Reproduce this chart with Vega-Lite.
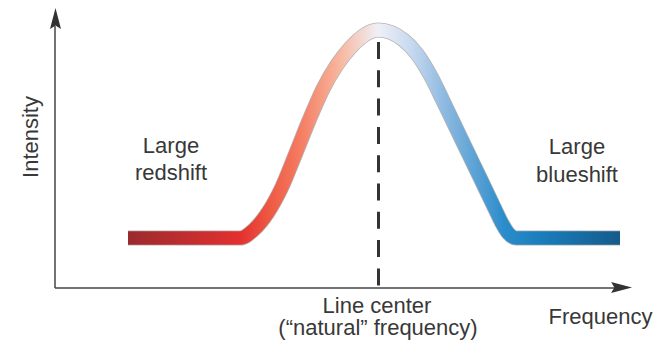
{
  "$schema": "https://vega.github.io/schema/vega-lite/v6.json",
  "width": 672,
  "height": 343,
  "padding": 0,
  "autosize": {"type": "none"},
  "background": "white",
  "config": {"view": {"stroke": null}},
  "datasets": {
    "curve": [
      {"f": 73, "i": 50}, {"f": 185, "i": 50}, {"f": 198.8, "i": 58.3}, {"f": 212.6, "i": 75},
      {"f": 226.4, "i": 99.9}, {"f": 240.2, "i": 133.2}, {"f": 254, "i": 167.5}, {"f": 267.8, "i": 198.7},
      {"f": 281.6, "i": 222.6}, {"f": 295.4, "i": 240.3}, {"f": 309.2, "i": 252.8}, {"f": 323, "i": 258},
      {"f": 336, "i": 255.5}, {"f": 349, "i": 247.6}, {"f": 362, "i": 234}, {"f": 375, "i": 213.3},
      {"f": 388, "i": 187.3}, {"f": 401, "i": 160.2}, {"f": 414, "i": 133.2}, {"f": 427, "i": 106.2},
      {"f": 440, "i": 79.1}, {"f": 446.5, "i": 65.6}, {"f": 453, "i": 55.2}, {"f": 461, "i": 50},
      {"f": 565, "i": 50}
    ],
    "axes": [
      {"x": 0, "y": 0, "x2": 0, "y2": 262},
      {"x": 0, "y": 0, "x2": 570, "y2": 0}
    ],
    "arrows": [
      {"x": 0.5, "y": 269, "dir": "up"},
      {"x": 566, "y": 0.5, "dir": "right"}
    ],
    "center": [{"x": 323.5, "y": 246, "y2": 0}],
    "labels": [
      {"x": 116, "y": 135, "text": "Large"},
      {"x": 116, "y": 108, "text": "redshift"},
      {"x": 522, "y": 134, "text": "Large"},
      {"x": 522, "y": 106, "text": "blueshift"},
      {"x": 322, "y": -24.5, "text": "Line center"},
      {"x": 323, "y": -47, "text": "(“natural” frequency)"},
      {"x": 545.5, "y": -36, "text": "Frequency"}
    ],
    "ylabel": [{"x": -17.5, "y": 151, "text": "Intensity"}]
  },
  "layer": [
    {
      "data": {"name": "axes"},
      "mark": {"type": "rule", "color": "#444444", "strokeWidth": 1.5},
      "encoding": {
        "x": {"field": "x", "type": "quantitative", "scale": {"domain": [-55, 617], "nice": false, "zero": false}, "axis": null},
        "y": {"field": "y", "type": "quantitative", "scale": {"domain": [-55, 288], "nice": false, "zero": false}, "axis": null},
        "x2": {"field": "x2"},
        "y2": {"field": "y2"}
      }
    },
    {
      "data": {"name": "arrows"},
      "mark": {"type": "point", "filled": true, "color": "#333333", "size": 484, "opacity": 1, "strokeWidth": 0},
      "encoding": {
        "x": {"field": "x", "type": "quantitative"},
        "y": {"field": "y", "type": "quantitative"},
        "shape": {"field": "dir", "type": "nominal", "legend": null,
          "scale": {"domain": ["up", "right"], "range": ["M0,-1L0.5,0.9L0,0.6L-0.5,0.9Z", "M1,0L-0.9,0.5L-0.6,0L-0.9,-0.5Z"]}}
      }
    },
    {
      "data": {"name": "center"},
      "mark": {"type": "rule", "color": "#333333", "strokeWidth": 3, "strokeDash": [17, 11.3]},
      "encoding": {
        "x": {"field": "x", "type": "quantitative"},
        "y": {"field": "y", "type": "quantitative"},
        "y2": {"field": "y2"}
      }
    },
    {
      "data": {"name": "curve"},
      "mark": {"type": "line", "interpolate": "monotone", "color": "#b4b4b4", "strokeWidth": 15, "strokeCap": "butt"},
      "encoding": {
        "x": {"field": "f", "type": "quantitative"},
        "y": {"field": "i", "type": "quantitative"}
      }
    },
    {
      "data": {"name": "curve"},
      "mark": {
        "type": "line", "interpolate": "monotone", "strokeWidth": 13.5, "strokeCap": "butt",
        "stroke": {
          "gradient": "linear", "x1": 0, "y1": 0, "x2": 1, "y2": 0,
          "stops": [
            {"offset": 0, "color": "#9b2a2e"},
            {"offset": 0.228, "color": "#e3302f"},
            {"offset": 0.289, "color": "#ef5a44"},
            {"offset": 0.35, "color": "#f47c62"},
            {"offset": 0.431, "color": "#f8b7a0"},
            {"offset": 0.508, "color": "#eef0f6"},
            {"offset": 0.573, "color": "#c9daf0"},
            {"offset": 0.654, "color": "#85b5de"},
            {"offset": 0.766, "color": "#2a8ccb"},
            {"offset": 0.837, "color": "#1a7ebd"},
            {"offset": 1, "color": "#155b8b"}
          ]
        }
      },
      "encoding": {
        "x": {"field": "f", "type": "quantitative"},
        "y": {"field": "i", "type": "quantitative"}
      }
    },
    {
      "data": {"name": "labels"},
      "mark": {"type": "text", "font": "Liberation Sans", "fontSize": 22, "color": "#383838", "align": "center", "baseline": "alphabetic"},
      "encoding": {
        "x": {"field": "x", "type": "quantitative"},
        "y": {"field": "y", "type": "quantitative"},
        "text": {"field": "text"}
      }
    },
    {
      "data": {"name": "ylabel"},
      "mark": {"type": "text", "font": "Liberation Sans", "fontSize": 22, "color": "#383838", "align": "center", "baseline": "alphabetic", "angle": 270},
      "encoding": {
        "x": {"field": "x", "type": "quantitative"},
        "y": {"field": "y", "type": "quantitative"},
        "text": {"field": "text"}
      }
    }
  ]
}
